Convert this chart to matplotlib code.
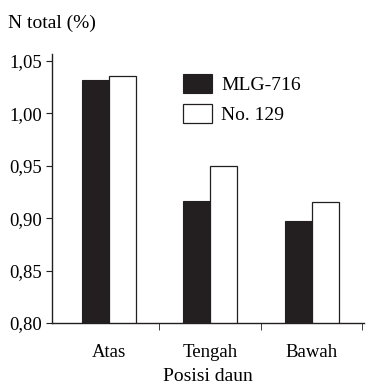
import matplotlib
matplotlib.use("Agg")
import matplotlib.pyplot as plt
import numpy as np
from matplotlib.ticker import FuncFormatter

plt.rcParams['font.family'] = ['Liberation Serif', 'DejaVu Serif']

# Data
posisi = ["Atas", "Tengah", "Bawah"]
mlg_716 = [1.032, 0.916, 0.897]
no_129 = [1.036, 0.950, 0.915]

x = np.arange(len(posisi))
w = 0.265
fs = 13.5

fig = plt.figure(figsize=(3.68, 3.85), dpi=100)
ax = fig.add_axes([0.14, 0.161, 0.848, 0.70])

ax.bar(x - w / 2, mlg_716, w, bottom=0, color='#231f20', edgecolor='#231f20',
       linewidth=0.8, label='MLG-716')
ax.bar(x + w / 2, no_129, w, bottom=0, color='white', edgecolor='#231f20',
       linewidth=0.9, label='No. 129')

ax.set_ylim(0.80, 1.057)
ax.set_xlim(-0.565, 2.51)
ax.set_yticks([0.80, 0.85, 0.90, 0.95, 1.00, 1.05])
ax.yaxis.set_major_formatter(FuncFormatter(lambda v, p: f"{v:.2f}".replace('.', ',')))

ax.set_xticks(x)
ax.set_xticklabels(posisi)
ax.set_xticks([0.49, 1.5, 2.49], minor=True)
ax.tick_params(axis='x', which='major', length=0, pad=15, labelsize=fs)
ax.tick_params(axis='x', which='minor', length=5, direction='out', color='#231f20')
ax.tick_params(axis='y', length=4, pad=2.5, direction='out', labelsize=fs, color='#231f20')

for s in ['top', 'right']:
    ax.spines[s].set_visible(False)
for s in ['left', 'bottom']:
    ax.spines[s].set_color('#231f20')
    ax.spines[s].set_linewidth(1.0)

ax.set_xlabel("Posisi daun", fontsize=14, labelpad=5)
fig.text(0.022, 0.94, "N total (%)", fontsize=14, ha='left', va='center')

ax.legend(loc='upper left', bbox_to_anchor=(0.42, 0.925), frameon=False,
          fontsize=14, handlelength=1.5, handleheight=1.13,
          labelspacing=0.5, handletextpad=0.5, borderaxespad=0,
          borderpad=0)

fig.savefig("out.png", dpi=100)
